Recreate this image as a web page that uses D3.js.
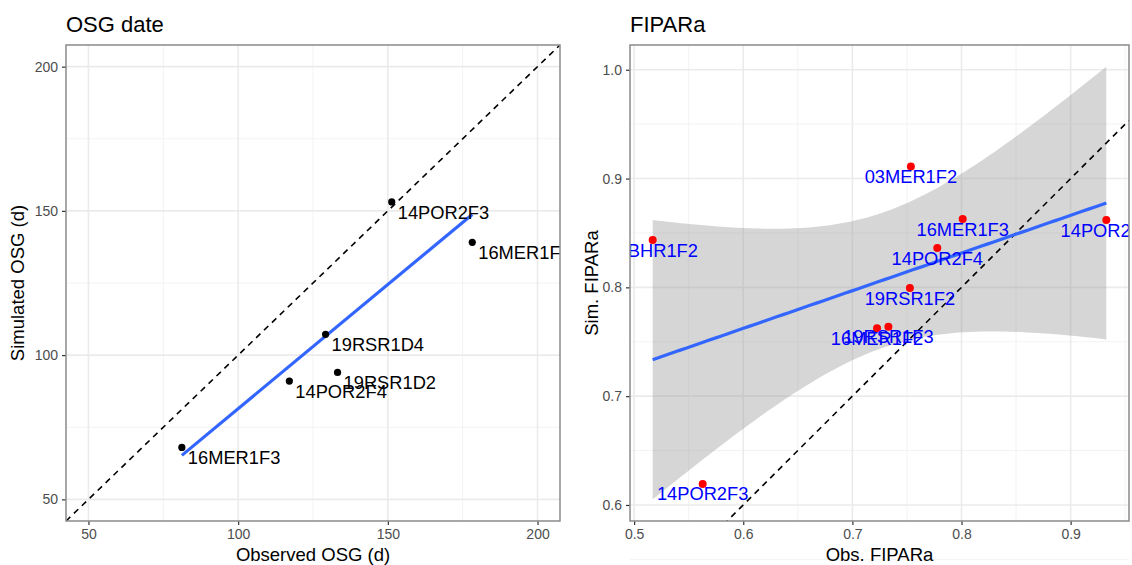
<!DOCTYPE html>
<html>
<head>
<meta charset="utf-8">
<script src="https://cdn.jsdelivr.net/npm/d3@7"></script>
<style>
  html, body { margin: 0; padding: 0; background: #fff; }
  svg { display: block; font-family: "Liberation Sans", Arial, sans-serif; }
</style>
</head>
<body>
<svg id="chart" width="1132" height="565"></svg>
<script>
// ---- OSG date panel data ----
const osgSites = ["16MER1F3", "14POR2F4", "19RSR1D2", "19RSR1D4", "14POR2F3", "16MER1F2"];
const osgObserved = [81.2, 117.1, 133.2, 129.2, 151.3, 178.2];
const osgSimulated = [68.0, 91.0, 94.0, 107.2, 153.1, 139.1];
const osgLimits = [50, 200];
const osgTicks = [50, 100, 150, 200];
const osgMinorTicks = [75, 125, 175];

// ---- FIPARa panel data ----
const fiparSites = ["03BHR1F2", "03MER1F2", "16MER1F3", "14POR2F4", "14POR2F1",
                    "19RSR1F2", "16MER1F2", "19RSR1F3", "14POR2F3"];
const fiparObserved = [0.517, 0.7536, 0.8011, 0.7778, 0.9327, 0.7527, 0.7226, 0.7330, 0.5628];
const fiparSimulated = [0.8435, 0.911, 0.8628, 0.8361, 0.8618, 0.7994, 0.7624, 0.7637, 0.6193];
const fiparXTicks = [0.5, 0.6, 0.7, 0.8, 0.9];
const fiparXMinor = [0.55, 0.65, 0.75, 0.85, 0.95];
const fiparYTicks = [0.6, 0.7, 0.8, 0.9, 1.0];
const fiparYMinor = [0.55, 0.65, 0.75, 0.85, 0.95];

const svg = d3.select("#chart");

// ordinary least squares with a 95% confidence band for the mean response
function linearFit(xs, ys) {
  const n = xs.length;
  const mx = d3.mean(xs), my = d3.mean(ys);
  let sxy = 0, sxx = 0;
  xs.forEach((x, i) => { sxy += (x - mx) * (ys[i] - my); sxx += (x - mx) ** 2; });
  const slope = sxy / sxx;
  const intercept = my - slope * mx;
  let sse = 0;
  xs.forEach((x, i) => { sse += (ys[i] - (intercept + slope * x)) ** 2; });
  const s = Math.sqrt(sse / (n - 2));
  // Student t 0.975 quantiles by degrees of freedom
  const tTable = {1: 12.706, 2: 4.303, 3: 3.182, 4: 2.776, 5: 2.571, 6: 2.447, 7: 2.365, 8: 2.306, 9: 2.262, 10: 2.228};
  const t = tTable[n - 2] || 1.96;
  const predict = x => intercept + slope * x;
  const band = x => {
    const se = s * Math.sqrt(1 / n + (x - mx) ** 2 / sxx);
    return [predict(x) - t * se, predict(x) + t * se];
  };
  return { predict, band };
}

function expand([a, b], f = 0.05) {
  const r = b - a;
  return [a - r * f, b + r * f];
}

function drawPanel(cfg) {
  const { x0, x1, y0, y1, xDomain, yDomain, id } = cfg;
  const x = d3.scaleLinear().domain(xDomain).range([x0, x1]);
  const y = d3.scaleLinear().domain(yDomain).range([y1, y0]);
  const g = svg.append("g");

  g.append("clipPath").attr("id", id).append("rect")
    .attr("x", x0).attr("y", y0).attr("width", x1 - x0).attr("height", y1 - y0);

  // grid
  const grid = g.append("g");
  cfg.xMinor.forEach(v => grid.append("line").attr("x1", x(v)).attr("x2", x(v)).attr("y1", y0).attr("y2", y1)
    .attr("stroke", "#f2f2f2").attr("stroke-width", 0.9));
  cfg.yMinor.forEach(v => grid.append("line").attr("y1", y(v)).attr("y2", y(v)).attr("x1", x0).attr("x2", x1)
    .attr("stroke", "#f2f2f2").attr("stroke-width", 0.9));
  cfg.xTicks.forEach(v => grid.append("line").attr("x1", x(v)).attr("x2", x(v)).attr("y1", y0).attr("y2", y1)
    .attr("stroke", "#ebebeb").attr("stroke-width", 1.6));
  cfg.yTicks.forEach(v => grid.append("line").attr("y1", y(v)).attr("y2", y(v)).attr("x1", x0).attr("x2", x1)
    .attr("stroke", "#ebebeb").attr("stroke-width", 1.6));

  const plot = g.append("g").attr("clip-path", `url(#${id})`);

  // axes
  const xAxis = d3.axisBottom(x).tickValues(cfg.xTicks).tickFormat(cfg.xFormat).tickSize(4).tickPadding(4);
  const yAxis = d3.axisLeft(y).tickValues(cfg.yTicks).tickFormat(cfg.yFormat).tickSize(4).tickPadding(4);
  const gx = g.append("g").attr("transform", `translate(0,${y1})`).call(xAxis);
  const gy = g.append("g").attr("transform", `translate(${x0},0)`).call(yAxis);
  [gx, gy].forEach(a => {
    a.select(".domain").remove();
    a.selectAll(".tick line").attr("stroke", "#333").attr("stroke-width", 1.2);
    a.selectAll(".tick text").attr("fill", "#4d4d4d").style("font-size", "14px")
      .style("font-family", "'Liberation Sans', Arial, sans-serif");
  });

  // panel border
  g.append("rect").attr("x", x0).attr("y", y0).attr("width", x1 - x0).attr("height", y1 - y0)
    .attr("fill", "none").attr("stroke", "#8a8a8a").attr("stroke-width", 1.5);

  // titles
  g.append("text").attr("x", x0).attr("y", 32).text(cfg.title)
    .style("font-size", "22px").attr("fill", "#000");
  g.append("text").attr("x", (x0 + x1) / 2).attr("y", 561).attr("text-anchor", "middle")
    .text(cfg.xTitle).style("font-size", "18.5px").attr("fill", "#000");
  g.append("text").attr("transform", `translate(${cfg.yTitleX},${(y0 + y1) / 2}) rotate(-90)`)
    .attr("text-anchor", "middle").text(cfg.yTitle).style("font-size", "18.5px").attr("fill", "#000");

  return { x, y, plot };
}

// ---------------- left panel: OSG date ----------------
{
  const dom = expand(osgLimits);
  const { x, y, plot } = drawPanel({
    id: "clipOsg", x0: 66, x1: 560, y0: 45, y1: 521,
    xDomain: dom, yDomain: dom,
    xTicks: osgTicks, yTicks: osgTicks, xMinor: osgMinorTicks, yMinor: osgMinorTicks,
    xFormat: d3.format("d"), yFormat: d3.format("d"),
    title: "OSG date", xTitle: "Observed OSG (d)", yTitle: "Simulated OSG (d)", yTitleX: 24
  });

  // 1:1 line
  plot.append("line").attr("x1", x(dom[0])).attr("y1", y(dom[0])).attr("x2", x(dom[1])).attr("y2", y(dom[1]))
    .attr("stroke", "#000").attr("stroke-width", 1.6).attr("stroke-dasharray", "6,5");

  // linear fit across observed range
  const fit = linearFit(osgObserved, osgSimulated);
  const [xmin, xmax] = d3.extent(osgObserved);
  plot.append("line").attr("x1", x(xmin)).attr("y1", y(fit.predict(xmin)))
    .attr("x2", x(xmax)).attr("y2", y(fit.predict(xmax)))
    .attr("stroke", "#3366FF").attr("stroke-width", 3.2);

  const pts = osgSites.map((s, i) => ({ s, x: osgObserved[i], y: osgSimulated[i] }));
  plot.selectAll("circle.pt").data(pts).join("circle")
    .attr("cx", d => x(d.x)).attr("cy", d => y(d.y)).attr("r", 3.6).attr("fill", "#000");
  plot.selectAll("text.lbl").data(pts).join("text")
    .attr("x", d => x(d.x) + 6).attr("y", d => y(d.y) + 17)
    .text(d => d.s).style("font-size", "18.3px").attr("fill", "#000");
}

// ---------------- right panel: FIPARa ----------------
{
  const fit = linearFit(fiparObserved, fiparSimulated);
  const [xmin, xmax] = d3.extent(fiparObserved);
  const grid = d3.range(0, 81).map(i => xmin + (xmax - xmin) * i / 80);
  const bandPts = grid.map(v => { const [lo, hi] = fit.band(v); return { x: v, lo, hi, fit: fit.predict(v) }; });
  const yExt = d3.extent([...fiparSimulated, ...bandPts.map(d => d.lo), ...bandPts.map(d => d.hi)]);

  const { x, y, plot } = drawPanel({
    id: "clipFipar", x0: 630, x1: 1129, y0: 45, y1: 521,
    xDomain: expand([xmin, xmax]), yDomain: expand(yExt),
    xTicks: fiparXTicks, yTicks: fiparYTicks, xMinor: fiparXMinor, yMinor: fiparYMinor,
    xFormat: d3.format(".1f"), yFormat: d3.format(".1f"),
    title: "FIPARa", xTitle: "Obs. FIPARa", yTitle: "Sim. FIPARa", yTitleX: 598
  });

  // confidence ribbon
  plot.append("path").datum(bandPts)
    .attr("d", d3.area().x(d => x(d.x)).y0(d => y(d.lo)).y1(d => y(d.hi)))
    .attr("fill", "#999999").attr("fill-opacity", 0.4);

  // 1:1 line
  const xd = x.domain();
  plot.append("line").attr("x1", x(xd[0])).attr("y1", y(xd[0])).attr("x2", x(xd[1])).attr("y2", y(xd[1]))
    .attr("stroke", "#000").attr("stroke-width", 1.6).attr("stroke-dasharray", "6,5");

  plot.append("path").datum(bandPts)
    .attr("d", d3.line().x(d => x(d.x)).y(d => y(d.fit)))
    .attr("fill", "none").attr("stroke", "#3366FF").attr("stroke-width", 3.2);

  const pts = fiparSites.map((s, i) => ({ s, x: fiparObserved[i], y: fiparSimulated[i] }));
  plot.selectAll("circle.pt").data(pts).join("circle")
    .attr("cx", d => x(d.x)).attr("cy", d => y(d.y)).attr("r", 4).attr("fill", "#FF0000");
  plot.selectAll("text.lbl").data(pts).join("text")
    .attr("x", d => x(d.x)).attr("y", d => y(d.y) + 16.5).attr("text-anchor", "middle")
    .text(d => d.s).style("font-size", "18.3px").attr("fill", "#0000FF");
}
</script>
</body>
</html>
